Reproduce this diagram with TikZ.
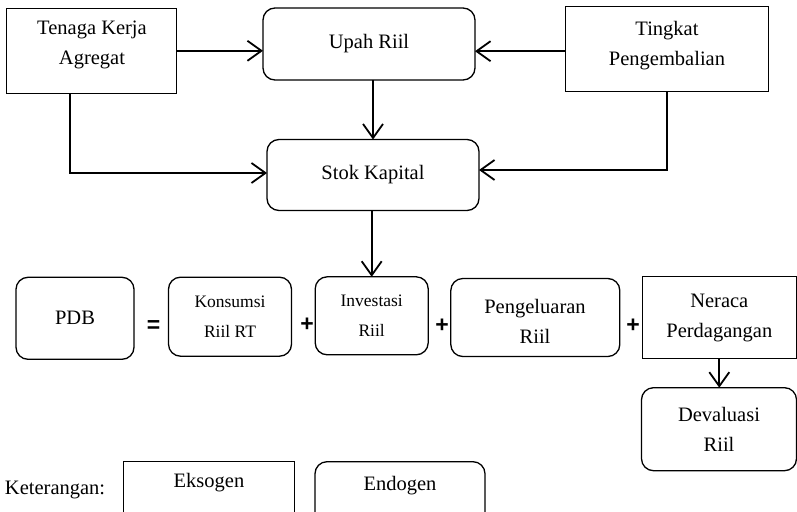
\documentclass[tikz,border=0pt]{standalone}
\usepackage{fontspec}
\setmainfont{Liberation Serif}
\setsansfont{Liberation Sans}
\usetikzlibrary{arrows.meta}
\begin{document}
\begin{tikzpicture}[x=1pt,y=-1pt,
  every node/.style={inner sep=0pt,outer sep=0pt},
  lbl/.style={font=\fontsize{20.5}{30}\selectfont,align=center},
  small/.style={font=\fontsize{17.5}{30}\selectfont,align=center},
  exo/.style={draw,line width=1.3pt},
  endo/.style={draw,line width=1.3pt,rounded corners=12pt},
  op/.style={font=\sffamily\bfseries\fontsize{23}{23}\selectfont},
  conn/.style={line width=1.8pt,-{Straight Barb[length=14pt,width=20pt,line width=1.8pt]}}]
\useasboundingbox (0,0) rectangle (797,511);
\clip (0,0) rectangle (797,511);

% upper block: drivers of the capital stock
\node[exo,minimum width=170,minimum height=85] (tenaga) at (91.7,50.8) {};
\node[lbl] (tenagaT) at (92,44.5) {Tenaga Kerja\\Agregat};
\node[endo,minimum width=212,minimum height=72,lbl] (upah) at (369,44) {Upah Riil};
\node[exo,minimum width=203,minimum height=85] (tingkat) at (666.7,49.2) {};
\node[lbl] (tingkatT) at (667,46) {Tingkat\\Pengembalian};
\node[endo,minimum width=212,minimum height=71,lbl] (stok) at (373,175) {Stok Kapital};

% GDP identity
\node[endo,minimum width=118,minimum height=82,lbl] (pdb) at (75,318.3) {PDB};
\node[op] (eq) at (153.5,327) {=};
\node[endo,minimum width=123,minimum height=79,small] (kons) at (230,316.7) {Konsumsi\\Riil RT};
\node[op] (p1) at (307,325) {+};
\node[endo,minimum width=113,minimum height=78,small] (inv) at (371.7,315.8) {Investasi\\Riil};
\node[op] (p2) at (442,326) {+};
\node[endo,minimum width=169,minimum height=78] (peng) at (535.3,317.5) {};
\node[lbl] (pengT) at (535,321) {Pengeluaran\\Riil};
\node[op] (p3) at (633,326) {+};
\node[exo,minimum width=154,minimum height=82,lbl] (neraca) at (719.3,317.8) {Neraca\\Perdagangan};
\node[endo,minimum width=155,minimum height=83,lbl] (deval) at (719,429.2) {Devaluasi\\Riil};

% legend
\node[lbl,anchor=west] (ket) at (5,490) {Keterangan:};
\node[exo,minimum width=171,minimum height=70] (eks) at (208.8,496.7) {};
\node[lbl] (eksT) at (209,483) {Eksogen};
\node[endo,minimum width=170,minimum height=70] (endg) at (400,496.7) {};
\node[lbl] (endgT) at (400,486) {Endogen};

% connectors
\draw[conn] (tenaga.east) -- (tenaga.east -| upah.west);
\draw[conn] ([yshift=-2pt]tingkat.west) -- ([yshift=-2pt]tingkat.west -| upah.east);
\draw[conn] (stok.north |- upah.south) -- (stok.north);
\draw[conn] ([xshift=-22pt]tenaga.south) |- ([yshift=2pt]stok.west);
\draw[conn] (tingkat.south) |- ([yshift=5pt]stok.east);
\draw[conn] (inv.north |- stok.south) -- (inv.north);
\draw[conn] (neraca.south) -- (neraca.south |- deval.north);
\end{tikzpicture}
\end{document}
